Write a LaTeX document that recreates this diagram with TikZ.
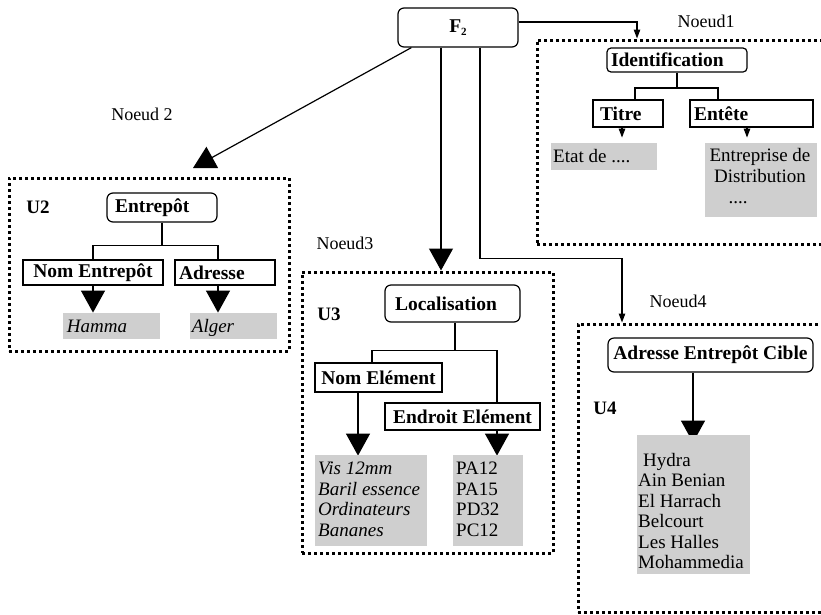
\documentclass[tikz,border=0pt]{standalone}
\usepackage{fontspec}
\setmainfont{Liberation Serif}
\usetikzlibrary{arrows.meta}
\begin{document}
\begin{tikzpicture}[x=1pt,y=-1pt,
  txt/.style={font=\fontsize{19}{20.5}\selectfont, inner sep=0pt},
  itxt/.style={txt, font=\fontsize{19}{20.5}\selectfont\itshape},
  lbl/.style={font=\fontsize{18}{20}\selectfont, inner sep=0pt},
  ubl/.style={font=\fontsize{19}{20}\selectfont\bfseries, inner sep=0pt},
  frame/.style={draw, line width=3pt, dash pattern=on 3pt off 3pt, inner sep=0pt},
  sbox/.style={draw, line width=1.2pt, inner sep=0pt, font=\fontsize{19.5}{21}\selectfont\bfseries},
  rbox/.style={sbox, rounded corners=6pt},
  haze/.style={fill=black!19, draw=none},
  link/.style={line width=1.2pt},
  smallarr/.style={link, -{Triangle[length=9pt,width=6.5pt]}},
  bigarr/.style={link, -{Triangle[length=22pt,width=24pt]}},
]
\useasboundingbox (0,0) rectangle (821,614);

% ---- dotted frames of the four nodes
\node[frame, minimum width=293pt, minimum height=204pt] (n1) at (683.5,142) {};
\node[frame, minimum width=280pt, minimum height=173pt] (n2) at (149,264.5) {};
\node[frame, minimum width=251pt, minimum height=281pt] (n3) at (427.5,412.5) {};
\node[frame, minimum width=252pt, minimum height=288pt] (n4) at (704,468) {};

% ---- frame captions
\node[lbl] (c1) at (706,21) {Noeud1};
\node[lbl] (c2) at (142,114) {Noeud 2};
\node[lbl] (c3) at (345,243) {Noeud3};
\node[lbl] (c4) at (678,301) {Noeud4};
\node[ubl] (u2) at (38,207) {U2};
\node[ubl] (u3) at (329,314) {U3};
\node[ubl] (u4) at (605,408) {U4};

% ---- root
\node[rbox, minimum width=120pt, minimum height=39pt] (f2) at (458,27.5)
  {F\raisebox{-3pt}{\fontsize{11}{11}\selectfont 2}};

% ---- Noeud1 : identification
\node[rbox, rounded corners=4pt, minimum height=24pt, inner xsep=4pt, text width=132pt, align=left] (ident) at (677,60) {Identification};
\node[sbox, minimum height=27pt, inner xsep=7pt, text width=56pt, align=left] (titre) at (628,113.5) {Titre};
\node[sbox, minimum height=27pt, inner xsep=4pt, text width=115pt, align=left] (entete) at (751.5,113.5) {Entête};
\coordinate (jI) at (677,88);
\draw[link] (ident.south) -- (jI);
\draw[link] ([xshift=7pt]titre.north) |- (jI) -| ([xshift=-33.5pt]entete.north);
\draw[smallarr] ([xshift=-6pt]titre.south) -- ++(0,10);
\draw[smallarr] ([xshift=-4.5pt]entete.south) -- ++(0,10);
\fill[haze] (551,143) rectangle (657,170);
\fill[haze] (705,143) rectangle (817,217);
\node[txt, anchor=base west] (etat) at (553,162) {Etat de ....};
\node[txt, anchor=base] (entr) at (760,161) {Entreprise de};
\node[txt, anchor=base] (distr) at (760,182) {Distribution};
\node[txt, anchor=base] (edots) at (738,203) {....};

% ---- Noeud2 : entrepot
\node[rbox, minimum height=29pt, inner xsep=8pt, text width=94pt, align=left] (entrepot) at (162,207.5) {Entrepôt};
\node[sbox, minimum width=140pt, minimum height=25pt] (nomE) at (93,272.5) {Nom Entrepôt};
\node[sbox, minimum height=25pt, inner xsep=4pt, text width=92pt, align=left] (adresse) at (225,272.5) {Adresse};
\draw[link] (entrepot.south) -- ++(0,23) coordinate (j2);
\draw[link] (nomE.north) |- (j2) -| ([xshift=-7pt]adresse.north);
\draw[bigarr] (nomE.south) -- ++(0,27);
\draw[bigarr] ([xshift=-7pt]adresse.south) -- ++(0,27);
\fill[haze] (63,313) rectangle (160,339);
\fill[haze] (190,313) rectangle (277,339);
\node[itxt, anchor=base] (hamma) at (97,332) {Hamma};
\node[itxt, anchor=base] (alger) at (213,332) {Alger};

% ---- Noeud3 : localisation
\node[rbox, minimum height=37pt, inner xsep=10pt, text width=115pt, align=left] (loc) at (452.5,303.5) {Localisation};
\node[sbox, minimum width=127pt, minimum height=29pt] (nomEl) at (378.5,377.5) {Nom Elément};
\node[sbox, minimum width=155pt, minimum height=27pt] (endroit) at (462.5,416.5) {Endroit Elément};
\draw[link] ([xshift=2.5pt]loc.south) -- ++(0,28) coordinate (j3);
\draw[link] ([xshift=-6.5pt]nomEl.north) |- (j3) -| ([xshift=34.5pt]endroit.north);
\draw[bigarr] ([xshift=-20.5pt]nomEl.south) -- ++(0,63);
\draw[bigarr] ([xshift=34.5pt]endroit.south) -- ++(0,25);
\fill[haze] (315,455) rectangle (427,546);
\fill[haze] (453,455) rectangle (523,546);
\node[itxt, anchor=north west, align=left] (elems) at (318,462)
  {Vis 12mm\\Baril essence\\Ordinateurs\\Bananes};
\node[txt, anchor=north west, align=left] (places) at (456,462)
  {PA12\\PA15\\PD32\\PC12};

% ---- Noeud4 : adresse cible
\node[rbox, minimum width=205pt, minimum height=34pt] (cible) at (710.5,355) {Adresse Entrepôt Cible};
\draw[bigarr] ([xshift=-17.5pt]cible.south) -- ++(0,70);
\fill[haze] (637,435) rectangle (750,574);
\node[txt, anchor=north west, align=left] (sites) at (638,453)
  {\hspace*{5pt}Hydra\\Ain Benian\\El Harrach\\Belcourt\\Les Halles\\Mohammedia};

% ---- links from the root
\draw[smallarr] ([yshift=5.5pt]f2.east) -| ([xshift=-46.5pt]n1.north);
\coordinate (n2tip) at (193,168);
\draw[bigarr] ([xshift=14pt]f2.south west) -- (n2tip);
\draw[bigarr] ([xshift=-17pt]f2.south) -- ([xshift=-17pt]f2.south |- n3.north);
\draw[smallarr] ([xshift=22pt]f2.south) -- ++(0,211) -| ([xshift=-82pt]n4.north);
\end{tikzpicture}
\end{document}
